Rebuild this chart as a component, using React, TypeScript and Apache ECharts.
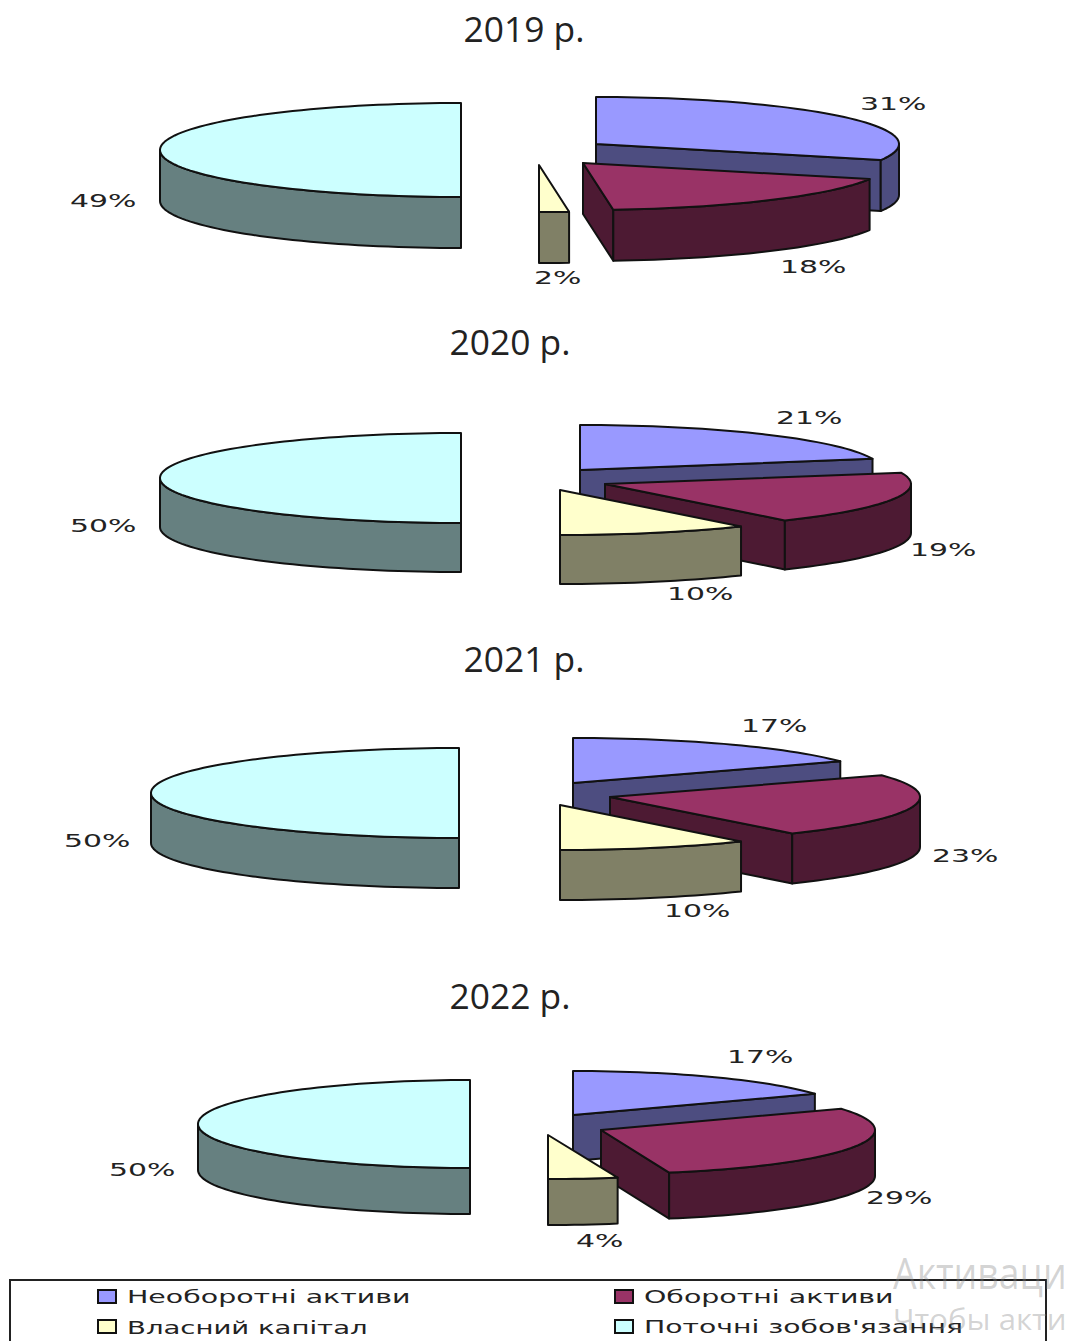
import React, { useEffect, useRef } from "react";
import * as echarts from "echarts";

const years = ["2019 р.", "2020 р.", "2021 р.", "2022 р."];
const seriesNames = ["Необоротні активи", "Оборотні активи", "Власний капітал", "Поточні зобов'язання"];
const nonCurrentAssets = [31, 21, 17, 17];
const currentAssets = [18, 19, 23, 29];
const equity = [2, 10, 10, 4];
const currentLiabilities = [49, 50, 50, 50];
const seriesValues = [nonCurrentAssets, currentAssets, equity, currentLiabilities];

const topColors = ["#9999FF", "#993366", "#FFFFCC", "#CCFFFF"];
const sideColors = ["#4D4D80", "#4D1A33", "#808066", "#668080"];

// drawing layout of each small-multiple pie (one row per year, one entry per slice)
const radiiX = [
  [303, 305, 303, 301],
  [302, 306, 308, 301],
  [305, 310, 308, 308],
  [276, 274, 280, 272],
];
const pieShape = [
  { ry: 47, depth: 51 },
  { ry: 45, depth: 49 },
  { ry: 45, depth: 50 },
  { ry: 44, depth: 46 },
];
// small correction, in degrees, of the drawn slice boundaries (after slices 1, 2, 3)
const boundaryNudge = [
  [-1.6, -2.1, -3.6],
  [0, 0, 0],
  [0, 0, 0],
  [0, 0, 0],
];
const apexes = [
  [[596, 144], [583, 163], [539, 165], [461, 150]],
  [[580, 470], [605, 484], [560, 490], [461, 478]],
  [[573, 783], [610, 797], [560, 805], [459, 793]],
  [[573, 1115], [601, 1130], [548, 1135], [470, 1124]],
];
const labelPos = [
  [[860, 104], [780, 267], [534, 278], [70, 201]],
  [[776, 418], [910, 550], [667, 594], [70, 526]],
  [[741, 726], [932, 856], [664, 911], [64, 841]],
  [[727, 1057], [866, 1198], [576, 1241], [109, 1170]],
];
const titlePos = [[524, 29], [510, 342], [524, 659], [510, 996]];
const legendPos = [[98, 1297], [615, 1297], [98, 1327], [615, 1327]];
const legendScale = [1.58, 1.58, 1.53, 1.57];

const rad = (d: number) => (d * Math.PI) / 180;

function sliceAngles(s: number, y: number) {
  let before = 0;
  for (let i = 0; i < s; i++) before += seriesValues[i][y];
  const start = before * 3.6 + (s > 0 ? boundaryNudge[y][s - 1] : 0);
  const end = (before + seriesValues[s][y]) * 3.6 + (s < 3 ? boundaryNudge[y][s] : 0);
  return [start, end];
}

function makeRender(s: number) {
  return (params: any, api: any) => {
    const y = params.dataIndex;
    const value = api.value(0);
    const [a, b] = sliceAngles(s, y);
    const { ry, depth } = pieShape[y];
    const rx = radiiX[y][s];
    const [cx, cy] = apexes[y][s];
    const pt = (deg: number, dz = 0) => [cx + rx * Math.sin(rad(deg)), cy - ry * Math.cos(rad(deg)) + dz];
    const arc = (from: number, to: number, dz = 0) => {
      const out: number[][] = [];
      const n = Math.max(2, Math.ceil(Math.abs(to - from) / 2));
      for (let i = 0; i <= n; i++) out.push(pt(from + ((to - from) * i) / n, dz));
      return out;
    };
    const stroke = { stroke: "#111", lineWidth: 2, lineJoin: "round" };
    const children: any[] = [];
    const poly = (points: number[][], fill: string) =>
      children.push({ type: "polygon", shape: { points }, style: { fill, ...stroke } });
    const side = sideColors[s];
    const edge = (deg: number) => {
      const p = pt(deg);
      poly([[cx, cy], p, [p[0], p[1] + depth], [cx, cy + depth]], side);
    };
    if (Math.sin(rad(a)) < -1e-6) edge(a);
    if (Math.sin(rad(b)) > 1e-6) edge(b);
    const from = Math.max(a, 90);
    const to = Math.min(b, 270);
    if (to > from) poly([...arc(from, to), ...arc(to, from, depth)], side);
    poly([[cx, cy], ...arc(a, b)], topColors[s]);
    const [lx, ly] = labelPos[y][s];
    children.push({
      type: "text",
      x: lx,
      y: ly,
      scaleX: 1.66,
      style: {
        text: Math.round(value) + "%",
        x: 0,
        y: 0,
        fill: "#222",
        font: '18px "DejaVu Sans"',
        textAlign: "left",
        textVerticalAlign: "middle",
      },
    });
    return { type: "group", children };
  };
}

function buildOption() {
  const graphic: any[] = [];
  years.forEach((t, i) => {
    graphic.push({
      type: "text",
      x: titlePos[i][0],
      y: titlePos[i][1],
      scaleX: 1.04,
      style: {
        text: t,
        x: 0,
        y: 0,
        fill: "#222",
        font: '34px "Open Sans"',
        textAlign: "center",
        textVerticalAlign: "middle",
      },
    });
  });
  graphic.push({
    type: "rect",
    shape: { x: 10, y: 1280, width: 1036, height: 70 },
    style: { fill: "#fff", stroke: "#222", lineWidth: 2 },
  });
  seriesNames.forEach((name, i) => {
    const [x, y] = legendPos[i];
    graphic.push({
      type: "rect",
      shape: { x, y: y - 7, width: 18, height: 13 },
      style: { fill: topColors[i], stroke: "#111", lineWidth: 2 },
    });
    graphic.push({
      type: "text",
      x: x + 29,
      y,
      scaleX: legendScale[i],
      style: {
        text: name,
        x: 0,
        y: 0,
        fill: "#222",
        font: '18px "DejaVu Sans"',
        textAlign: "left",
        textVerticalAlign: "middle",
      },
    });
  });
  graphic.push({
    type: "text",
    x: 893,
    y: 1272,
    z: 10,
    scaleX: 0.85,
    style: { text: "Активаци", x: 0, y: 0, fill: "rgba(130,130,130,0.35)", font: '44px "Open Sans"', textVerticalAlign: "middle" },
  });
  graphic.push({
    type: "text",
    x: 893,
    y: 1318,
    z: 10,
    scaleX: 1.04,
    style: { text: "Чтобы акти", x: 0, y: 0, fill: "rgba(130,130,130,0.35)", font: '30px "Open Sans"', textVerticalAlign: "middle" },
  });
  return {
    animation: false,
    backgroundColor: "#fff",
    graphic,
    series: seriesNames.map((name, s) => ({
      type: "custom",
      name,
      coordinateSystem: "none",
      renderItem: makeRender(s),
      data: seriesValues[s],
      silent: true,
    })),
  };
}

export default function App() {
  const ref = useRef<HTMLDivElement>(null);
  useEffect(() => {
    const chart = echarts.init(ref.current!, undefined, { renderer: "svg" });
    chart.setOption(buildOption() as any);
    return () => chart.dispose();
  }, []);
  return <div ref={ref} style={{ position: "fixed", left: 0, top: 0, width: 1071, height: 1341 }} />;
}
